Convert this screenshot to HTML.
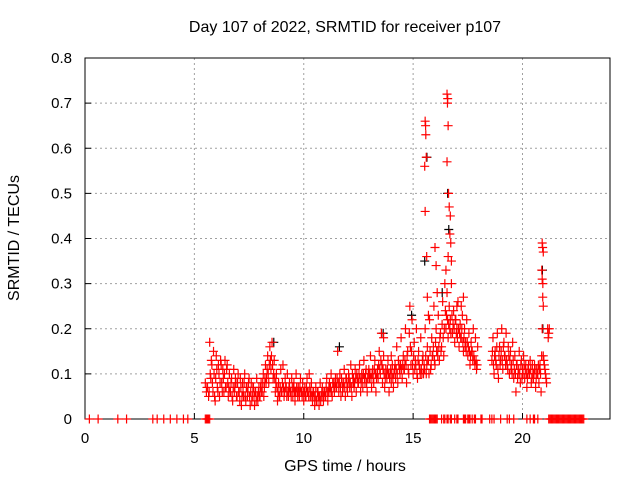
<!DOCTYPE html>
<html><head><meta charset="utf-8"><style>
body{margin:0;background:#fff}
svg{font-family:"Liberation Sans",sans-serif;font-size:15px}
.big{font-size:16px}
</style></head><body>
<svg width="640" height="480" viewBox="0 0 640 480" xmlns="http://www.w3.org/2000/svg">
<rect width="640" height="480" fill="#fff"/>
<g id="grid"></g>
<g id="axes"></g>
<g id="marks"></g>
<text class="big" x="345" y="32" text-anchor="middle">Day 107 of 2022, SRMTID for receiver p107</text>
<text class="big" x="345" y="471" text-anchor="middle">GPS time / hours</text>
<text class="big" x="0" y="0" text-anchor="middle" transform="translate(19,238) rotate(-90)">SRMTID / TECUs</text>
</svg>
<script>
const xTicks=[0,5,10,15,20];
const yTicks=[0,0.1,0.2,0.3,0.4,0.5,0.6,0.7,0.8];
const yTickLabels=["0","0.1","0.2","0.3","0.4","0.5","0.6","0.7","0.8"];
const gridStart=5.5, gridStep=0.05;
const redValues=[
0.08,0.06,0.07,0.05,0.17,0.09,0.12,0.06,0.1,0.04,0.14,0.07,0.12,0.05,0.13,0.08,0.11,0.06,0.13,0.07,
0.12,0.05,0.1,0.06,0.09,0.04,0.11,0.07,0.08,0.05,0.1,0.06,0.09,0.03,0.08,0.05,0.1,0.04,0.07,0.06,
0.09,0.03,0.08,0.05,0.07,0.03,0.06,0.09,0.04,0.07,0.05,0.08,0.06,0.1,0.07,0.12,0.09,0.14,0.08,0.16,
0.11,0.17,0.09,0.13,0.06,0.1,0.04,0.08,0.05,0.11,0.06,0.12,0.05,0.09,0.07,0.1,0.05,0.08,0.06,0.09,
0.05,0.08,0.04,0.1,0.06,0.07,0.05,0.09,0.06,0.08,0.04,0.07,0.05,0.09,0.06,0.1,0.05,0.08,0.04,0.06,
0.03,0.07,0.04,0.06,0.03,0.08,0.05,0.07,0.04,0.06,0.05,0.09,0.04,0.07,0.06,0.1,0.05,0.08,0.06,0.09,
0.07,0.15,0.06,0.1,0.05,0.08,0.07,0.11,0.05,0.09,0.06,0.1,0.07,0.12,0.05,0.08,0.07,0.11,0.06,0.09,
0.08,0.12,0.06,0.1,0.07,0.13,0.08,0.11,0.06,0.1,0.09,0.14,0.07,0.11,0.08,0.13,0.06,0.1,0.09,0.15,
0.1,0.19,0.08,0.14,0.07,0.11,0.09,0.13,0.06,0.1,0.08,0.12,0.07,0.11,0.09,0.16,0.08,0.12,0.1,0.18,
0.09,0.14,0.11,0.2,0.08,0.15,0.1,0.25,0.12,0.22,0.1,0.17,0.13,0.2,0.09,0.15,0.11,0.18,0.1,0.14,
0.12,0.2,0.1,0.16,0.13,0.22,0.11,0.18,0.14,0.25,0.12,0.2,0.15,0.23,0.13,0.19,0.16,0.26,0.14,0.3,
0.2,0.28,0.18,0.25,0.22,0.3,0.19,0.24,0.17,0.22,0.2,0.26,0.16,0.21,0.18,0.23,0.15,0.2,0.17,0.22,
0.14,0.19,0.12,0.17,0.15,0.2,0.13,0.18,0.11,0.16,null,null,null,null,null,null,null,null,null,null,
null,null,0.13,0.18,0.1,0.15,0.12,0.19,0.09,0.16,0.13,0.2,0.11,0.17,0.14,0.19,0.12,0.16,0.1,0.15,
0.12,0.17,0.09,0.14,0.06,0.12,0.1,0.15,0.08,0.13,0.11,0.14,0.09,0.12,0.07,0.11,0.1,0.13,0.08,0.12,
0.09,0.12,0.07,0.11,0.1,0.08,0.12,0.06,0.2,0.14,0.12,0.1,0.08,0.2,0.19];
const redValuesB=[
null,0.07,null,0.06,0.1,0.13,0.08,0.15,0.05,0.09,0.11,0.06,0.1,0.08,0.12,0.06,0.09,0.1,0.07,0.11,
0.08,0.07,0.06,0.08,0.05,0.07,0.06,0.09,0.05,0.08,0.06,0.04,0.07,0.05,0.06,0.08,0.05,0.07,0.05,0.08,
0.05,0.06,0.04,0.07,0.05,0.06,0.04,0.05,0.06,0.05,0.07,0.06,0.08,0.05,0.09,0.08,0.11,0.1,0.12,0.13,
0.14,0.12,0.1,0.09,0.08,0.07,0.06,0.05,0.07,0.06,0.08,0.07,0.06,0.07,0.05,0.06,0.07,0.06,0.05,0.07,
0.07,0.06,0.06,0.07,0.05,0.06,0.07,0.06,0.05,0.06,0.06,0.05,0.07,0.06,0.05,0.07,0.06,0.05,0.06,0.05,
0.05,0.04,0.06,0.05,0.05,0.04,0.06,0.05,0.06,0.05,0.07,0.06,0.06,0.08,0.07,0.06,0.08,0.07,0.08,0.07,
0.09,0.08,0.08,0.07,0.09,0.06,0.08,0.07,0.09,0.07,0.08,0.09,0.08,0.07,0.1,0.09,0.08,0.09,0.1,0.08,
0.1,0.09,0.08,0.09,0.1,0.09,0.1,0.08,0.09,0.11,0.1,0.09,0.1,0.09,0.11,0.1,0.09,0.11,0.12,0.11,
0.13,0.12,0.11,0.1,0.09,0.1,0.11,0.1,0.09,0.11,0.1,0.09,0.1,0.12,0.11,0.1,0.13,0.11,0.12,0.11,
0.12,0.11,0.13,0.12,0.14,0.11,0.19,0.16,0.15,0.12,0.14,0.11,0.12,0.1,0.13,0.12,0.1,0.11,0.13,0.1,
0.11,0.14,0.12,0.13,0.1,0.15,0.12,0.14,0.16,0.13,0.17,0.15,0.14,0.16,0.18,0.15,0.21,0.18,0.2,0.24,
0.23,0.22,0.21,0.2,0.19,0.23,0.21,0.2,0.22,0.19,0.18,0.2,0.19,0.18,0.2,0.17,0.18,0.16,0.15,0.17,
0.16,0.15,0.14,0.15,0.13,0.14,0.12,0.13,0.12,null,null,null,null,null,null,null,null,null,null,null,
null,null,0.15,0.12,0.14,0.13,0.16,0.11,0.14,0.12,0.15,0.13,0.16,0.14,0.12,0.13,0.11,0.14,0.13,0.11,
0.1,0.13,0.11,0.1,0.12,0.09,0.11,0.1,0.12,0.09,0.1,0.12,0.11,0.1,0.09,0.12,0.1,0.11,0.09,0.1,
0.1,0.11,0.09,0.1,0.12,0.11,0.1,0.14,0.27,0.13,0.11,0.09,null,0.18,0.2];
const spikeTimes=[15.55,15.57,15.58,15.6,15.53,15.55,15.62,15.65,15.7,16.0,16.05,16.1,16.55,16.57,16.58,16.6,16.55,16.62,16.65,16.7,16.68,16.72,16.6,16.5,16.75,17.3,17.2,20.9,20.92,20.95,20.88,20.9,20.93,20.95,14.0,13.65,17.0];
const spikeValues=[0.66,0.65,0.63,0.58,0.56,0.46,0.36,0.27,0.23,0.38,0.34,0.28,0.72,0.70,0.71,0.65,0.57,0.5,0.47,0.45,0.41,0.39,0.36,0.33,0.35,0.27,0.25,0.39,0.38,0.37,0.33,0.31,0.3,0.25,0.14,0.18,0.25];
const blackTimes=[8.6,13.6,11.6,15.6,16.55,16.6,20.88,14.9,16.3,15.5,20.9];
const blackValues=[0.17,0.19,0.16,0.58,0.5,0.42,0.33,0.23,0.28,0.35,0.2];
const zeroTimes=[0.2,0.6,1.5,1.9,3.1,3.3,3.6,3.9,4.2,4.5,4.7,5.5,5.55,5.6,5.65,5.7,15.75,15.8,15.85,15.9,15.95,16.0,16.05,16.1,16.3,16.4,16.45,16.55,16.6,16.7,16.75,16.9,17.0,17.05,17.3,17.35,17.4,17.5,17.55,17.6,17.7,17.8,17.85,18.1,18.15,18.5,18.6,18.7,19.0,19.3,19.4,19.6,20.2,20.35,20.5,20.55,20.7,21.2,21.25,21.3,21.35,21.4,21.45,21.5,21.55,21.6,21.65,21.7,21.75,21.8,21.85,21.9,21.95,22.0,22.05,22.1,22.15,22.2,22.25,22.3,22.35,22.4,22.45,22.5,22.55,22.6,22.65,22.7,22.75,22.8];
const L=85,R=610,T=58,B=419;
const X=t=>L+t*(R-L)/24;
const Y=v=>B-v*(B-T)/0.8;
const NS="http://www.w3.org/2000/svg";
function mk(tag,attrs,parent){const e=document.createElementNS(NS,tag);for(const k in attrs)e.setAttribute(k,attrs[k]);parent.appendChild(e);return e;}
const grid=document.getElementById('grid'),axes=document.getElementById('axes'),marks=document.getElementById('marks');
xTicks.forEach(t=>{
  if(t>0){const g=mk('line',{x1:X(t),x2:X(t),y1:T,y2:B,stroke:'#a0a0a0','stroke-dasharray':'2,3'},grid);
  
  }
  const tk=mk('line',{x1:X(t),x2:X(t),y1:B,y2:B-6,stroke:'#000'},axes);
  
  
  const tx=mk('text',{x:X(t),y:B+24,'text-anchor':'middle'},axes);tx.textContent=t;
  
  
});
yTicks.forEach((v,i)=>{
  if(v>0&&v<0.8){const g=mk('line',{x1:L,x2:R,y1:Y(v),y2:Y(v),stroke:'#a0a0a0','stroke-dasharray':'2,3'},grid);
  
  }
  const tk=mk('line',{x1:L,x2:L+6,y1:Y(v),y2:Y(v),stroke:'#000'},axes);
  
  
  const tx=mk('text',{x:L-13,y:Y(v)+5,'text-anchor':'end'},axes);tx.textContent=yTickLabels[i];
  
  
});
const fr=mk('rect',{x:L,y:T,width:R-L,height:B-T,fill:'none',stroke:'#000'},axes);


function plus(t,v,color,name){
  const x=X(t),y=Y(v);
  const p=mk('path',{d:`M${x-4.5},${y}H${x+4.5}M${x},${y-4.5}V${y+4.5}`,stroke:color,'stroke-width':1.2,fill:'none'},marks);
  
  
}
blackTimes.forEach((t,i)=>plus(t+0.03,blackValues[i],'#000','black-point'));
redValues.forEach((v,i)=>{if(v!==null)plus(gridStart+i*gridStep,v,'#f00','red-point');});
redValuesB.forEach((v,i)=>{if(v!==null)plus(gridStart+0.025+i*gridStep,v,'#f00','red-point-b');});
spikeTimes.forEach((t,i)=>plus(t,spikeValues[i],'#f00','red-spike-point'));
zeroTimes.forEach(t=>plus(t,0,'#f00','zero-point'));
</script>
</body></html>
